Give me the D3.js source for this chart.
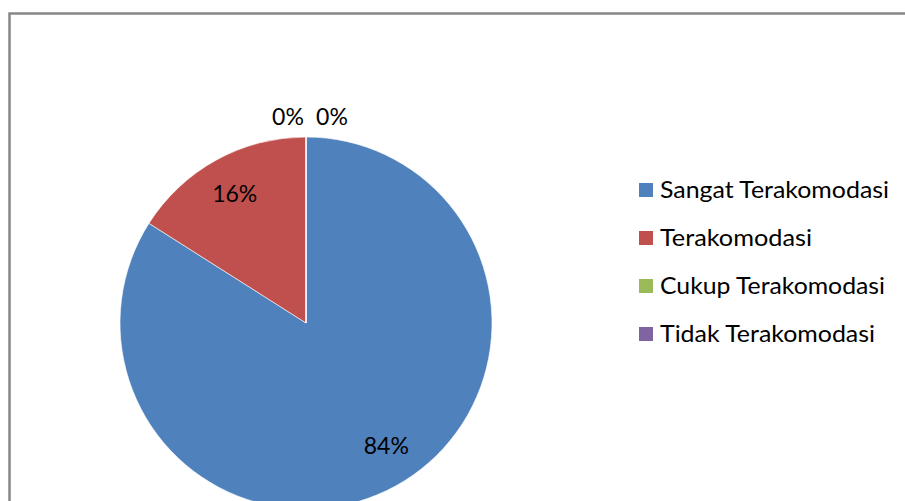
<!DOCTYPE html>
<html><head><meta charset="utf-8">
<script src="https://cdn.jsdelivr.net/npm/d3@7"></script>
<style>html,body{margin:0;padding:0;background:#fff;overflow:hidden}</style>
</head><body>
<svg id="c" width="905" height="501"></svg>
<script>
const categories = ["Sangat Terakomodasi", "Terakomodasi", "Cukup Terakomodasi", "Tidak Terakomodasi"];
const values = [84, 16, 0, 0];
const colors = ["#4F81BD", "#C0504D", "#9BBB59", "#8064A2"];
const legendWidths = [229, 152, 225, 215];

const svg = d3.select("#c");
const W = 905, H = 501;
const font = "Lato, 'Open Sans', sans-serif";

// chart border (extends beyond the visible area on right and bottom)
svg.append("rect").attr("x", 9.5).attr("y", 13.5).attr("width", 1000).attr("height", 600)
  .attr("fill", "#fff").attr("stroke", "#878787").attr("stroke-width", 2.5);

const cx = 306, cy = 323, r = 186;
const g = svg.append("g").attr("transform", `translate(${cx},${cy})`);
const pie = d3.pie().sort(null).value(d => d)(values);
const arc = d3.arc().innerRadius(0).outerRadius(r);
g.selectAll("path").data(pie).enter().append("path")
  .attr("d", arc).attr("fill", (d, i) => colors[i])
  .attr("stroke", "#fff").attr("stroke-width", 0.6);

const total = d3.sum(values);
const inLabel = d3.arc().innerRadius(148).outerRadius(148);
const outLabel = d3.arc().innerRadius(r + 21).outerRadius(r + 21);
const zeroOffsets = [-18, 26];
let zi = 0;
g.selectAll("text.lbl").data(pie).enter().append("text")
  .attr("class", "lbl")
  .each(function(d, i) {
    let p;
    if (d.value === 0) { p = outLabel.centroid(d); p[0] += zeroOffsets[zi++]; }
    else { p = inLabel.centroid(d); if (i === 0) { p[0] += 9; p[1] -= 8; } }
    d3.select(this).attr("x", p[0]).attr("y", p[1]);
  })
  .attr("text-anchor", "middle").attr("dominant-baseline", "central")
  .attr("font-family", font).attr("font-size", 23).attr("fill", "#000")
  .text(d => Math.round(d.value / total * 100) + "%");

// legend
const ly = d3.scalePoint().domain(categories).range([190, 334]);
const leg = svg.append("g");
categories.forEach((c, i) => {
  leg.append("rect").attr("x", 639).attr("y", ly(c) - 7).attr("width", 14).attr("height", 14)
    .attr("fill", colors[i]);
  leg.append("text").attr("x", 660).attr("y", ly(c) + 8)
    .attr("font-family", font).attr("font-size", 23).attr("fill", "#000")
    .attr("textLength", legendWidths[i]).attr("lengthAdjust", "spacingAndGlyphs")
    .text(c);
});
</script>
</body></html>
